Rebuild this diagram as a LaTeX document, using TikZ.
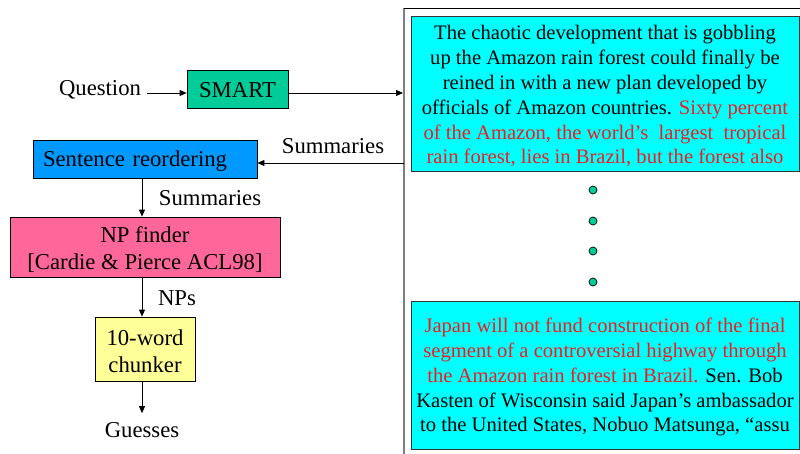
\documentclass[tikz,border=0pt]{standalone}
\usepackage{fontspec}
\setmainfont{Liberation Serif}
\usetikzlibrary{arrows.meta,calc}
\definecolor{smartgreen}{HTML}{00CC99}
\definecolor{sentblue}{HTML}{0099FF}
\definecolor{nppink}{HTML}{FF6699}
\definecolor{chunkyellow}{HTML}{FFFF99}
\definecolor{doccyan}{HTML}{00FFFF}
\definecolor{hired}{HTML}{F21C1C}
\definecolor{framegray}{HTML}{808080}
\newcommand{\rd}[1]{{\color{hired}#1}}
\newcommand{\topstrut}[1]{\rule{0pt}{#1}}
\tikzset{
  box/.style={draw=black, line width=0.8pt, inner sep=0pt, align=center,
    font=\fontsize{22.7}{28}\selectfont},
  onebox/.style={box, text height=18pt, text depth=3pt},
  lbl/.style={inner sep=0pt, font=\fontsize{22.7}{28}\selectfont},
  doc/.style={draw=black!80, line width=1pt, fill=doccyan, inner sep=0pt,
    minimum width=388pt, align=center, font=\fontsize{20.6}{24.8}\selectfont},
  dotmark/.style={circle, draw=black, line width=0.7pt, fill=smartgreen,
    minimum size=8pt, inner sep=0pt},
  arr/.style={line width=0.8pt, -{Triangle[length=7pt,width=6pt]}},
}
\begin{document}
\begin{tikzpicture}[x=1pt,y=-1pt]
\useasboundingbox (0,0) rectangle (800,453);
% frame
\coordinate (fbot) at (404,455);
\coordinate (ftl) at (404,8);
\coordinate (ftr) at (801,8);
\draw[framegray, line width=2pt] (fbot) -- (ftl);
\draw[black, line width=1pt] (ftl) -- (ftr);
\coordinate (fin) at (403,93);
\coordinate (fout) at (404,163);
\coordinate (ax) at (142,0);
% nodes
\node[lbl] (q) at (100,90) {Question};
\node[onebox, fill=smartgreen, minimum width=101pt, minimum height=38pt] (smart) at (237.5,89.5) {SMART};
\node[onebox, fill=sentblue, minimum width=224pt, minimum height=38pt, text width=204pt, align=left, inner xsep=10pt] (sent) at (145,159) {Sentence reordering};
\node[box, fill=nppink, minimum width=270pt, minimum height=60pt] (np) at (145,247) {\topstrut{21pt}NP finder\\[-1pt][Cardie \& Pierce ACL98]};
\node[box, fill=chunkyellow, minimum width=100pt, minimum height=64pt] (chunk) at (145,349) {\topstrut{21pt}10-word\\[-1pt]chunker};
\node[lbl] (guess) at (142,430) {Guesses};
\node[lbl] (sum1) at (333,146) {Summaries};
\node[lbl] (sum2) at (210,198) {Summaries};
\node[lbl] (nps) at (177,298) {NPs};
% documents
\node[doc, minimum height=155pt] (d1) at (605,93.5) {\topstrut{20pt}The chaotic development that is gobbling\\
up the Amazon rain forest could finally be\\
reined in with a new plan developed by\\
officials of Amazon countries. \rd{Sixty percent}\\
\rd{of the Amazon, the world’s\ \ largest\ \ tropical}\\
\rd{rain forest, lies in Brazil, but the forest also}};
\node[doc, minimum height=148pt] (d2) at (605,375) {\topstrut{19pt}\rd{Japan will not fund construction of the final}\\
\rd{segment of a controversial highway through}\\
\rd{the Amazon rain forest in Brazil.} Sen. Bob\\
Kasten of Wisconsin said Japan’s ambassador\\
to the United States, Nobuo Matsunga, “assu};
\node[dotmark] (p1) at (593,190) {};
\node[dotmark] (p2) at (593,221) {};
\node[dotmark] (p3) at (593,251) {};
\node[dotmark] (p4) at (593,282) {};
% connectors
\draw[arr] ([xshift=6pt]q.east |- fin) -- (smart.west |- fin);
\draw[arr] (smart.east |- fin) -- (fin);
\draw[arr] (fout) -- (sent.east |- fout);
\draw[arr] (sent.south -| ax) -- (np.north -| ax);
\draw[arr] (np.south -| ax) -- (chunk.north -| ax);
\draw[arr, shorten >=9pt] (chunk.south -| ax) -- (guess.north);
\end{tikzpicture}
\end{document}
